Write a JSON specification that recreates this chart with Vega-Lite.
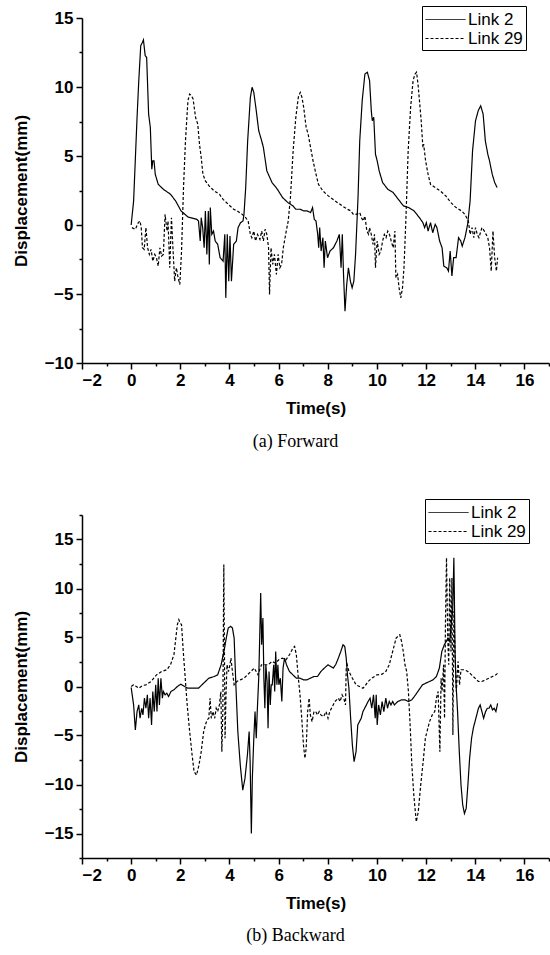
{
  "$schema": "https://vega.github.io/schema/vega-lite/v6.json",
  "background": "white",
  "padding": {"left": 12, "top": 5, "right": 0, "bottom": 0},
  "spacing": 47,
  "config": {
    "view": {"stroke": null},
    "axis": {
      "labelFont": "Liberation Sans", "labelFontWeight": "bold", "labelFontSize": 17, "labelColor": "black",
      "titleFont": "Liberation Sans", "titleFontWeight": "bold", "titleFontSize": 17, "titleColor": "black",
      "domainColor": "black", "domainWidth": 1.5, "tickColor": "black", "tickWidth": 1.5, "grid": false
    },
    "legend": {
      "labelFont": "Liberation Sans", "labelFontSize": 17, "labelColor": "black",
      "strokeColor": "black", "fillColor": "white", "padding": 3, "rowPadding": 0,
      "symbolType": "M-2,0H2", "symbolSize": 400, "symbolOffset": 10, "symbolFillColor": "transparent",
      "symbolStrokeColor": "black", "symbolStrokeWidth": 1,
      "labelOffset": 12
    }
  },
  "datasets": {
    "forward": [
      {"series":"Link 2","t":0.00,"v":0.00},{"series":"Link 2","t":0.10,"v":1.74},{"series":"Link 2","t":0.24,"v":7.80},{"series":"Link 2","t":0.31,"v":10.46},{"series":"Link 2","t":0.39,"v":13.00},{"series":"Link 2","t":0.46,"v":13.24},{"series":"Link 2","t":0.50,"v":13.41},{"series":"Link 2","t":0.57,"v":12.28},{"series":"Link 2","t":0.63,"v":12.15},{"series":"Link 2","t":0.71,"v":8.04},{"series":"Link 2","t":0.78,"v":7.07},{"series":"Link 2","t":0.84,"v":4.04},{"series":"Link 2","t":0.88,"v":4.65},{"series":"Link 2","t":0.93,"v":4.65},{"series":"Link 2","t":0.98,"v":3.68},{"series":"Link 2","t":1.10,"v":2.95},{"series":"Link 2","t":1.31,"v":2.59},{"series":"Link 2","t":1.60,"v":2.23},{"series":"Link 2","t":1.81,"v":1.74},{"series":"Link 2","t":2.03,"v":1.02},{"series":"Link 2","t":2.31,"v":0.58},{"series":"Link 2","t":2.67,"v":0.41},{"series":"Link 2","t":2.74,"v":0.29},{"series":"Link 2","t":2.81,"v":-1.16},{"series":"Link 2","t":2.85,"v":0.53},{"series":"Link 2","t":2.91,"v":-0.19},{"series":"Link 2","t":2.97,"v":-1.65},{"series":"Link 2","t":3.02,"v":1.02},{"series":"Link 2","t":3.08,"v":-2.13},{"series":"Link 2","t":3.14,"v":1.02},{"series":"Link 2","t":3.18,"v":-2.86},{"series":"Link 2","t":3.22,"v":1.26},{"series":"Link 2","t":3.28,"v":-0.68},{"series":"Link 2","t":3.35,"v":-0.44},{"series":"Link 2","t":3.42,"v":-1.16},{"series":"Link 2","t":3.52,"v":-1.40},{"series":"Link 2","t":3.62,"v":-2.37},{"series":"Link 2","t":3.74,"v":-2.62},{"series":"Link 2","t":3.81,"v":-0.68},{"series":"Link 2","t":3.85,"v":-5.28},{"series":"Link 2","t":3.91,"v":-0.68},{"series":"Link 2","t":3.97,"v":-4.07},{"series":"Link 2","t":4.02,"v":-0.80},{"series":"Link 2","t":4.08,"v":-4.07},{"series":"Link 2","t":4.17,"v":-1.40},{"series":"Link 2","t":4.28,"v":-1.16},{"series":"Link 2","t":4.35,"v":-0.19},{"series":"Link 2","t":4.45,"v":0.17},{"series":"Link 2","t":4.55,"v":0.29},{"series":"Link 2","t":4.59,"v":0.77},{"series":"Link 2","t":4.66,"v":2.71},{"series":"Link 2","t":4.74,"v":6.10},{"series":"Link 2","t":4.85,"v":9.25},{"series":"Link 2","t":4.92,"v":9.98},{"series":"Link 2","t":4.99,"v":9.61},{"series":"Link 2","t":5.09,"v":8.28},{"series":"Link 2","t":5.19,"v":6.83},{"series":"Link 2","t":5.31,"v":6.10},{"series":"Link 2","t":5.38,"v":5.62},{"series":"Link 2","t":5.52,"v":3.92},{"series":"Link 2","t":5.73,"v":3.08},{"series":"Link 2","t":5.95,"v":2.59},{"series":"Link 2","t":6.16,"v":1.99},{"series":"Link 2","t":6.38,"v":1.62},{"series":"Link 2","t":6.59,"v":1.38},{"series":"Link 2","t":6.70,"v":1.14},{"series":"Link 2","t":6.88,"v":1.14},{"series":"Link 2","t":7.02,"v":1.02},{"series":"Link 2","t":7.16,"v":1.02},{"series":"Link 2","t":7.30,"v":0.90},{"series":"Link 2","t":7.38,"v":1.26},{"series":"Link 2","t":7.45,"v":0.41},{"series":"Link 2","t":7.52,"v":0.29},{"series":"Link 2","t":7.59,"v":-0.68},{"series":"Link 2","t":7.63,"v":-1.65},{"series":"Link 2","t":7.67,"v":-0.19},{"series":"Link 2","t":7.73,"v":-1.89},{"series":"Link 2","t":7.80,"v":-0.92},{"series":"Link 2","t":7.85,"v":-3.10},{"series":"Link 2","t":7.90,"v":-1.16},{"series":"Link 2","t":7.99,"v":-2.37},{"series":"Link 2","t":8.09,"v":-1.89},{"series":"Link 2","t":8.23,"v":-1.65},{"series":"Link 2","t":8.37,"v":-1.16},{"series":"Link 2","t":8.47,"v":-0.68},{"series":"Link 2","t":8.54,"v":-3.10},{"series":"Link 2","t":8.59,"v":-0.68},{"series":"Link 2","t":8.64,"v":-3.58},{"series":"Link 2","t":8.70,"v":-6.25},{"series":"Link 2","t":8.77,"v":-4.31},{"series":"Link 2","t":8.84,"v":-3.10},{"series":"Link 2","t":8.92,"v":-4.07},{"series":"Link 2","t":8.99,"v":-4.55},{"series":"Link 2","t":9.06,"v":-4.07},{"series":"Link 2","t":9.13,"v":-2.13},{"series":"Link 2","t":9.23,"v":1.99},{"series":"Link 2","t":9.30,"v":6.10},{"series":"Link 2","t":9.40,"v":9.01},{"series":"Link 2","t":9.51,"v":10.94},{"series":"Link 2","t":9.61,"v":11.07},{"series":"Link 2","t":9.70,"v":10.46},{"series":"Link 2","t":9.77,"v":8.28},{"series":"Link 2","t":9.81,"v":7.55},{"series":"Link 2","t":9.87,"v":7.80},{"series":"Link 2","t":9.94,"v":5.13},{"series":"Link 2","t":10.01,"v":4.65},{"series":"Link 2","t":10.09,"v":3.92},{"series":"Link 2","t":10.23,"v":3.08},{"series":"Link 2","t":10.44,"v":2.59},{"series":"Link 2","t":10.66,"v":2.35},{"series":"Link 2","t":10.87,"v":1.86},{"series":"Link 2","t":11.08,"v":1.38},{"series":"Link 2","t":11.30,"v":1.26},{"series":"Link 2","t":11.51,"v":1.02},{"series":"Link 2","t":11.73,"v":0.53},{"series":"Link 2","t":11.87,"v":0.17},{"series":"Link 2","t":11.94,"v":-0.19},{"series":"Link 2","t":12.01,"v":0.17},{"series":"Link 2","t":12.08,"v":-0.44},{"series":"Link 2","t":12.18,"v":0.17},{"series":"Link 2","t":12.27,"v":-0.56},{"series":"Link 2","t":12.37,"v":0.05},{"series":"Link 2","t":12.44,"v":-0.19},{"series":"Link 2","t":12.55,"v":-1.16},{"series":"Link 2","t":12.65,"v":-1.65},{"series":"Link 2","t":12.72,"v":-2.98},{"series":"Link 2","t":12.84,"v":-3.10},{"series":"Link 2","t":12.91,"v":-3.34},{"series":"Link 2","t":12.98,"v":-1.89},{"series":"Link 2","t":13.05,"v":-3.70},{"series":"Link 2","t":13.12,"v":-2.37},{"series":"Link 2","t":13.22,"v":-2.37},{"series":"Link 2","t":13.32,"v":-0.92},{"series":"Link 2","t":13.41,"v":-1.16},{"series":"Link 2","t":13.47,"v":-1.53},{"series":"Link 2","t":13.58,"v":-0.92},{"series":"Link 2","t":13.69,"v":0.05},{"series":"Link 2","t":13.79,"v":1.74},{"series":"Link 2","t":13.89,"v":5.38},{"series":"Link 2","t":14.01,"v":7.55},{"series":"Link 2","t":14.12,"v":8.28},{"series":"Link 2","t":14.22,"v":8.64},{"series":"Link 2","t":14.32,"v":8.04},{"series":"Link 2","t":14.41,"v":6.10},{"series":"Link 2","t":14.51,"v":5.13},{"series":"Link 2","t":14.58,"v":4.65},{"series":"Link 2","t":14.69,"v":3.68},{"series":"Link 2","t":14.79,"v":3.08},{"series":"Link 2","t":14.89,"v":2.71},
      {"series":"Link 29","t":0.03,"v":-0.19},{"series":"Link 29","t":0.17,"v":-0.31},{"series":"Link 29","t":0.29,"v":0.17},{"series":"Link 29","t":0.36,"v":0.29},{"series":"Link 29","t":0.41,"v":-0.19},{"series":"Link 29","t":0.46,"v":-1.65},{"series":"Link 29","t":0.53,"v":-1.77},{"series":"Link 29","t":0.60,"v":-0.19},{"series":"Link 29","t":0.67,"v":-1.65},{"series":"Link 29","t":0.74,"v":-2.13},{"series":"Link 29","t":0.81,"v":-1.77},{"series":"Link 29","t":0.88,"v":-2.62},{"series":"Link 29","t":0.96,"v":-2.13},{"series":"Link 29","t":1.03,"v":-2.37},{"series":"Link 29","t":1.10,"v":-2.98},{"series":"Link 29","t":1.17,"v":-1.65},{"series":"Link 29","t":1.24,"v":-2.25},{"series":"Link 29","t":1.31,"v":-2.13},{"series":"Link 29","t":1.38,"v":0.77},{"series":"Link 29","t":1.46,"v":-0.44},{"series":"Link 29","t":1.50,"v":0.29},{"series":"Link 29","t":1.57,"v":-3.10},{"series":"Link 29","t":1.64,"v":0.53},{"series":"Link 29","t":1.70,"v":-1.65},{"series":"Link 29","t":1.77,"v":-4.07},{"series":"Link 29","t":1.84,"v":-3.10},{"series":"Link 29","t":1.91,"v":-3.83},{"series":"Link 29","t":1.98,"v":-4.31},{"series":"Link 29","t":2.05,"v":-1.89},{"series":"Link 29","t":2.13,"v":2.71},{"series":"Link 29","t":2.21,"v":6.10},{"series":"Link 29","t":2.31,"v":9.01},{"series":"Link 29","t":2.38,"v":9.49},{"series":"Link 29","t":2.45,"v":9.37},{"series":"Link 29","t":2.52,"v":9.13},{"series":"Link 29","t":2.62,"v":7.80},{"series":"Link 29","t":2.71,"v":7.31},{"series":"Link 29","t":2.78,"v":5.86},{"series":"Link 29","t":2.85,"v":4.89},{"series":"Link 29","t":2.92,"v":3.68},{"series":"Link 29","t":3.02,"v":3.20},{"series":"Link 29","t":3.17,"v":2.83},{"series":"Link 29","t":3.38,"v":2.47},{"series":"Link 29","t":3.59,"v":2.23},{"series":"Link 29","t":3.74,"v":1.86},{"series":"Link 29","t":3.95,"v":1.50},{"series":"Link 29","t":4.17,"v":1.14},{"series":"Link 29","t":4.31,"v":1.02},{"series":"Link 29","t":4.52,"v":0.77},{"series":"Link 29","t":4.66,"v":0.53},{"series":"Link 29","t":4.76,"v":0.29},{"series":"Link 29","t":4.85,"v":-0.68},{"series":"Link 29","t":4.91,"v":-0.92},{"series":"Link 29","t":4.99,"v":-0.44},{"series":"Link 29","t":5.06,"v":-1.16},{"series":"Link 29","t":5.14,"v":-0.68},{"series":"Link 29","t":5.24,"v":-1.04},{"series":"Link 29","t":5.31,"v":-0.44},{"series":"Link 29","t":5.38,"v":-1.16},{"series":"Link 29","t":5.45,"v":-0.31},{"series":"Link 29","t":5.52,"v":-0.68},{"series":"Link 29","t":5.59,"v":-1.65},{"series":"Link 29","t":5.63,"v":-5.04},{"series":"Link 29","t":5.69,"v":-1.65},{"series":"Link 29","t":5.76,"v":-2.86},{"series":"Link 29","t":5.83,"v":-2.13},{"series":"Link 29","t":5.91,"v":-3.58},{"series":"Link 29","t":5.98,"v":-2.13},{"series":"Link 29","t":6.05,"v":-3.10},{"series":"Link 29","t":6.12,"v":-2.86},{"series":"Link 29","t":6.19,"v":-1.65},{"series":"Link 29","t":6.31,"v":-0.44},{"series":"Link 29","t":6.39,"v":0.29},{"series":"Link 29","t":6.48,"v":1.99},{"series":"Link 29","t":6.59,"v":5.38},{"series":"Link 29","t":6.70,"v":7.80},{"series":"Link 29","t":6.80,"v":9.25},{"series":"Link 29","t":6.88,"v":9.61},{"series":"Link 29","t":6.95,"v":9.25},{"series":"Link 29","t":7.02,"v":8.52},{"series":"Link 29","t":7.12,"v":7.07},{"series":"Link 29","t":7.20,"v":6.59},{"series":"Link 29","t":7.30,"v":5.62},{"series":"Link 29","t":7.40,"v":4.65},{"series":"Link 29","t":7.52,"v":3.68},{"series":"Link 29","t":7.62,"v":2.95},{"series":"Link 29","t":7.80,"v":2.47},{"series":"Link 29","t":8.02,"v":2.11},{"series":"Link 29","t":8.30,"v":1.74},{"series":"Link 29","t":8.59,"v":1.38},{"series":"Link 29","t":8.80,"v":1.14},{"series":"Link 29","t":8.94,"v":1.02},{"series":"Link 29","t":9.04,"v":0.77},{"series":"Link 29","t":9.16,"v":0.77},{"series":"Link 29","t":9.30,"v":0.90},{"series":"Link 29","t":9.37,"v":0.53},{"series":"Link 29","t":9.44,"v":0.29},{"series":"Link 29","t":9.51,"v":0.65},{"series":"Link 29","t":9.59,"v":-0.44},{"series":"Link 29","t":9.66,"v":-0.68},{"series":"Link 29","t":9.70,"v":-0.19},{"series":"Link 29","t":9.77,"v":-0.68},{"series":"Link 29","t":9.84,"v":-1.40},{"series":"Link 29","t":9.90,"v":-0.68},{"series":"Link 29","t":9.94,"v":-3.10},{"series":"Link 29","t":10.01,"v":-1.16},{"series":"Link 29","t":10.09,"v":-2.13},{"series":"Link 29","t":10.16,"v":-1.89},{"series":"Link 29","t":10.23,"v":-1.16},{"series":"Link 29","t":10.30,"v":-0.68},{"series":"Link 29","t":10.37,"v":-0.92},{"series":"Link 29","t":10.44,"v":-0.44},{"series":"Link 29","t":10.51,"v":-0.68},{"series":"Link 29","t":10.58,"v":-1.16},{"series":"Link 29","t":10.66,"v":-1.65},{"series":"Link 29","t":10.73,"v":-0.44},{"series":"Link 29","t":10.77,"v":-3.83},{"series":"Link 29","t":10.84,"v":-3.58},{"series":"Link 29","t":10.90,"v":-4.55},{"series":"Link 29","t":10.97,"v":-5.28},{"series":"Link 29","t":11.04,"v":-4.55},{"series":"Link 29","t":11.10,"v":-3.10},{"series":"Link 29","t":11.18,"v":0.53},{"series":"Link 29","t":11.27,"v":5.38},{"series":"Link 29","t":11.37,"v":8.52},{"series":"Link 29","t":11.47,"v":10.46},{"series":"Link 29","t":11.55,"v":10.94},{"series":"Link 29","t":11.61,"v":11.07},{"series":"Link 29","t":11.67,"v":10.22},{"series":"Link 29","t":11.73,"v":9.01},{"series":"Link 29","t":11.80,"v":7.55},{"series":"Link 29","t":11.87,"v":5.62},{"series":"Link 29","t":11.90,"v":5.86},{"series":"Link 29","t":11.98,"v":4.65},{"series":"Link 29","t":12.08,"v":3.68},{"series":"Link 29","t":12.18,"v":2.95},{"series":"Link 29","t":12.37,"v":2.71},{"series":"Link 29","t":12.58,"v":2.47},{"series":"Link 29","t":12.80,"v":2.11},{"series":"Link 29","t":13.01,"v":1.62},{"series":"Link 29","t":13.22,"v":1.26},{"series":"Link 29","t":13.44,"v":1.02},{"series":"Link 29","t":13.58,"v":0.77},{"series":"Link 29","t":13.72,"v":0.29},{"series":"Link 29","t":13.79,"v":-0.68},{"series":"Link 29","t":13.87,"v":-0.19},{"series":"Link 29","t":13.94,"v":-0.92},{"series":"Link 29","t":14.01,"v":-0.19},{"series":"Link 29","t":14.08,"v":-0.68},{"series":"Link 29","t":14.15,"v":-0.92},{"series":"Link 29","t":14.27,"v":-0.19},{"series":"Link 29","t":14.37,"v":-0.44},{"series":"Link 29","t":14.44,"v":-0.68},{"series":"Link 29","t":14.51,"v":-0.92},{"series":"Link 29","t":14.58,"v":-1.65},{"series":"Link 29","t":14.65,"v":-3.34},{"series":"Link 29","t":14.72,"v":-0.44},{"series":"Link 29","t":14.79,"v":-2.37},{"series":"Link 29","t":14.86,"v":-3.34},{"series":"Link 29","t":14.91,"v":-2.37}
    ],
    "backward": [
      {"series":"Link 2","t":0.00,"v":-0.10},{"series":"Link 2","t":0.10,"v":-1.88},{"series":"Link 2","t":0.17,"v":-4.43},{"series":"Link 2","t":0.24,"v":-2.56},{"series":"Link 2","t":0.31,"v":-1.88},{"series":"Link 2","t":0.36,"v":-3.24},{"series":"Link 2","t":0.43,"v":-2.22},{"series":"Link 2","t":0.48,"v":-2.90},{"series":"Link 2","t":0.54,"v":-1.19},{"series":"Link 2","t":0.60,"v":-2.22},{"series":"Link 2","t":0.66,"v":-0.85},{"series":"Link 2","t":0.71,"v":-3.24},{"series":"Link 2","t":0.77,"v":-1.19},{"series":"Link 2","t":0.83,"v":-3.92},{"series":"Link 2","t":0.88,"v":-0.51},{"series":"Link 2","t":0.94,"v":-2.56},{"series":"Link 2","t":1.00,"v":0.17},{"series":"Link 2","t":1.05,"v":-2.56},{"series":"Link 2","t":1.10,"v":0.85},{"series":"Link 2","t":1.15,"v":-1.88},{"series":"Link 2","t":1.21,"v":0.85},{"series":"Link 2","t":1.27,"v":-1.19},{"series":"Link 2","t":1.31,"v":-0.51},{"series":"Link 2","t":1.38,"v":-0.85},{"series":"Link 2","t":1.45,"v":-0.68},{"series":"Link 2","t":1.52,"v":-1.02},{"series":"Link 2","t":1.62,"v":-0.51},{"series":"Link 2","t":1.74,"v":-0.34},{"series":"Link 2","t":1.88,"v":0.00},{"series":"Link 2","t":2.02,"v":0.24},{"series":"Link 2","t":2.17,"v":0.00},{"series":"Link 2","t":2.31,"v":-0.17},{"series":"Link 2","t":2.52,"v":-0.17},{"series":"Link 2","t":2.74,"v":-0.17},{"series":"Link 2","t":2.95,"v":0.34},{"series":"Link 2","t":3.16,"v":0.85},{"series":"Link 2","t":3.38,"v":1.02},{"series":"Link 2","t":3.52,"v":1.19},{"series":"Link 2","t":3.66,"v":2.22},{"series":"Link 2","t":3.80,"v":3.92},{"series":"Link 2","t":3.87,"v":4.94},{"series":"Link 2","t":3.95,"v":5.97},{"series":"Link 2","t":4.05,"v":6.14},{"series":"Link 2","t":4.12,"v":5.97},{"series":"Link 2","t":4.19,"v":4.94},{"series":"Link 2","t":4.26,"v":0.17},{"series":"Link 2","t":4.34,"v":-4.60},{"series":"Link 2","t":4.44,"v":-8.01},{"series":"Link 2","t":4.54,"v":-10.57},{"series":"Link 2","t":4.63,"v":-9.38},{"series":"Link 2","t":4.73,"v":-6.99},{"series":"Link 2","t":4.80,"v":-4.60},{"series":"Link 2","t":4.84,"v":-7.67},{"series":"Link 2","t":4.89,"v":-15.00},{"series":"Link 2","t":4.93,"v":-9.38},{"series":"Link 2","t":4.99,"v":-5.28},{"series":"Link 2","t":5.04,"v":-2.56},{"series":"Link 2","t":5.09,"v":-5.28},{"series":"Link 2","t":5.13,"v":-2.56},{"series":"Link 2","t":5.19,"v":0.85},{"series":"Link 2","t":5.23,"v":4.94},{"series":"Link 2","t":5.27,"v":9.55},{"series":"Link 2","t":5.31,"v":4.26},{"series":"Link 2","t":5.36,"v":6.99},{"series":"Link 2","t":5.40,"v":0.85},{"series":"Link 2","t":5.44,"v":-2.22},{"series":"Link 2","t":5.48,"v":2.22},{"series":"Link 2","t":5.53,"v":0.51},{"series":"Link 2","t":5.57,"v":-4.26},{"series":"Link 2","t":5.61,"v":1.53},{"series":"Link 2","t":5.66,"v":-1.88},{"series":"Link 2","t":5.70,"v":0.17},{"series":"Link 2","t":5.74,"v":0.17},{"series":"Link 2","t":5.80,"v":2.22},{"series":"Link 2","t":5.84,"v":-0.51},{"series":"Link 2","t":5.88,"v":3.58},{"series":"Link 2","t":5.93,"v":0.17},{"series":"Link 2","t":5.97,"v":2.22},{"series":"Link 2","t":6.01,"v":0.17},{"series":"Link 2","t":6.07,"v":0.85},{"series":"Link 2","t":6.13,"v":-1.53},{"series":"Link 2","t":6.18,"v":1.88},{"series":"Link 2","t":6.24,"v":2.90},{"series":"Link 2","t":6.32,"v":2.22},{"series":"Link 2","t":6.44,"v":1.53},{"series":"Link 2","t":6.58,"v":1.19},{"series":"Link 2","t":6.72,"v":0.85},{"series":"Link 2","t":6.87,"v":0.85},{"series":"Link 2","t":7.01,"v":0.68},{"series":"Link 2","t":7.15,"v":0.68},{"series":"Link 2","t":7.29,"v":0.85},{"series":"Link 2","t":7.44,"v":1.02},{"series":"Link 2","t":7.58,"v":1.02},{"series":"Link 2","t":7.72,"v":1.53},{"series":"Link 2","t":7.86,"v":1.88},{"series":"Link 2","t":8.01,"v":2.22},{"series":"Link 2","t":8.12,"v":2.05},{"series":"Link 2","t":8.22,"v":1.88},{"series":"Link 2","t":8.32,"v":2.22},{"series":"Link 2","t":8.43,"v":2.90},{"series":"Link 2","t":8.53,"v":3.58},{"series":"Link 2","t":8.62,"v":4.26},{"series":"Link 2","t":8.69,"v":4.09},{"series":"Link 2","t":8.75,"v":2.90},{"series":"Link 2","t":8.80,"v":1.19},{"series":"Link 2","t":8.86,"v":-0.17},{"series":"Link 2","t":8.93,"v":-3.24},{"series":"Link 2","t":9.00,"v":-5.97},{"series":"Link 2","t":9.07,"v":-7.67},{"series":"Link 2","t":9.15,"v":-6.65},{"series":"Link 2","t":9.22,"v":-3.92},{"series":"Link 2","t":9.29,"v":-3.58},{"series":"Link 2","t":9.36,"v":-3.24},{"series":"Link 2","t":9.43,"v":-2.56},{"series":"Link 2","t":9.50,"v":-2.22},{"series":"Link 2","t":9.57,"v":-1.88},{"series":"Link 2","t":9.64,"v":-1.53},{"series":"Link 2","t":9.72,"v":-1.19},{"series":"Link 2","t":9.79,"v":-2.22},{"series":"Link 2","t":9.86,"v":-0.85},{"series":"Link 2","t":9.93,"v":-3.24},{"series":"Link 2","t":9.97,"v":-0.85},{"series":"Link 2","t":10.01,"v":-3.92},{"series":"Link 2","t":10.07,"v":-1.88},{"series":"Link 2","t":10.14,"v":-2.90},{"series":"Link 2","t":10.21,"v":-1.53},{"series":"Link 2","t":10.28,"v":-2.56},{"series":"Link 2","t":10.36,"v":-1.19},{"series":"Link 2","t":10.43,"v":-2.22},{"series":"Link 2","t":10.50,"v":-1.53},{"series":"Link 2","t":10.57,"v":-1.88},{"series":"Link 2","t":10.64,"v":-1.53},{"series":"Link 2","t":10.71,"v":-1.88},{"series":"Link 2","t":10.85,"v":-1.53},{"series":"Link 2","t":11.00,"v":-1.36},{"series":"Link 2","t":11.14,"v":-1.36},{"series":"Link 2","t":11.28,"v":-1.53},{"series":"Link 2","t":11.42,"v":-1.36},{"series":"Link 2","t":11.57,"v":-0.85},{"series":"Link 2","t":11.71,"v":-0.34},{"series":"Link 2","t":11.85,"v":0.17},{"series":"Link 2","t":11.99,"v":0.34},{"series":"Link 2","t":12.14,"v":0.51},{"series":"Link 2","t":12.28,"v":0.68},{"series":"Link 2","t":12.42,"v":1.02},{"series":"Link 2","t":12.54,"v":1.88},{"series":"Link 2","t":12.64,"v":3.58},{"series":"Link 2","t":12.74,"v":4.26},{"series":"Link 2","t":12.82,"v":4.60},{"series":"Link 2","t":12.89,"v":4.94},{"series":"Link 2","t":12.96,"v":4.60},{"series":"Link 2","t":13.02,"v":6.31},{"series":"Link 2","t":13.08,"v":7.67},{"series":"Link 2","t":13.13,"v":13.13},{"series":"Link 2","t":13.18,"v":3.24},{"series":"Link 2","t":13.22,"v":0.17},{"series":"Link 2","t":13.28,"v":-2.56},{"series":"Link 2","t":13.35,"v":-6.65},{"series":"Link 2","t":13.42,"v":-10.06},{"series":"Link 2","t":13.49,"v":-12.10},{"series":"Link 2","t":13.56,"v":-12.96},{"series":"Link 2","t":13.63,"v":-12.44},{"series":"Link 2","t":13.70,"v":-10.06},{"series":"Link 2","t":13.77,"v":-7.33},{"series":"Link 2","t":13.85,"v":-5.28},{"series":"Link 2","t":13.92,"v":-4.26},{"series":"Link 2","t":13.99,"v":-3.58},{"series":"Link 2","t":14.06,"v":-2.90},{"series":"Link 2","t":14.13,"v":-2.22},{"series":"Link 2","t":14.20,"v":-1.88},{"series":"Link 2","t":14.27,"v":-2.56},{"series":"Link 2","t":14.34,"v":-3.24},{"series":"Link 2","t":14.42,"v":-2.56},{"series":"Link 2","t":14.49,"v":-2.22},{"series":"Link 2","t":14.56,"v":-2.22},{"series":"Link 2","t":14.63,"v":-1.88},{"series":"Link 2","t":14.70,"v":-2.39},{"series":"Link 2","t":14.77,"v":-2.22},{"series":"Link 2","t":14.84,"v":-2.56},{"series":"Link 2","t":14.91,"v":-1.71},
      {"series":"Link 29","t":0.00,"v":0.00},{"series":"Link 29","t":0.10,"v":0.17},{"series":"Link 29","t":0.21,"v":0.00},{"series":"Link 29","t":0.31,"v":-0.17},{"series":"Link 29","t":0.46,"v":0.10},{"series":"Link 29","t":0.60,"v":0.17},{"series":"Link 29","t":0.81,"v":0.51},{"series":"Link 29","t":1.03,"v":1.19},{"series":"Link 29","t":1.24,"v":1.53},{"series":"Link 29","t":1.45,"v":1.71},{"series":"Link 29","t":1.60,"v":2.22},{"series":"Link 29","t":1.74,"v":3.24},{"series":"Link 29","t":1.88,"v":6.31},{"series":"Link 29","t":1.94,"v":6.82},{"series":"Link 29","t":1.99,"v":6.48},{"series":"Link 29","t":2.05,"v":6.31},{"series":"Link 29","t":2.12,"v":3.58},{"series":"Link 29","t":2.21,"v":0.51},{"series":"Link 29","t":2.28,"v":-1.88},{"series":"Link 29","t":2.38,"v":-4.60},{"series":"Link 29","t":2.48,"v":-6.99},{"series":"Link 29","t":2.56,"v":-8.69},{"series":"Link 29","t":2.66,"v":-9.04},{"series":"Link 29","t":2.76,"v":-8.01},{"series":"Link 29","t":2.85,"v":-6.65},{"series":"Link 29","t":2.95,"v":-4.60},{"series":"Link 29","t":3.02,"v":-3.92},{"series":"Link 29","t":3.09,"v":-3.41},{"series":"Link 29","t":3.16,"v":-3.24},{"series":"Link 29","t":3.21,"v":-1.19},{"series":"Link 29","t":3.26,"v":-3.24},{"series":"Link 29","t":3.33,"v":-2.56},{"series":"Link 29","t":3.40,"v":-3.24},{"series":"Link 29","t":3.46,"v":-2.22},{"series":"Link 29","t":3.52,"v":-2.56},{"series":"Link 29","t":3.59,"v":-1.88},{"series":"Link 29","t":3.65,"v":-0.51},{"series":"Link 29","t":3.69,"v":-6.65},{"series":"Link 29","t":3.73,"v":-2.56},{"series":"Link 29","t":3.77,"v":12.44},{"series":"Link 29","t":3.82,"v":-5.28},{"series":"Link 29","t":3.86,"v":-0.85},{"series":"Link 29","t":3.90,"v":2.22},{"series":"Link 29","t":3.96,"v":1.53},{"series":"Link 29","t":4.02,"v":2.22},{"series":"Link 29","t":4.06,"v":2.90},{"series":"Link 29","t":4.12,"v":1.53},{"series":"Link 29","t":4.19,"v":0.17},{"series":"Link 29","t":4.30,"v":0.51},{"series":"Link 29","t":4.44,"v":0.68},{"series":"Link 29","t":4.59,"v":0.85},{"series":"Link 29","t":4.73,"v":1.19},{"series":"Link 29","t":4.87,"v":1.53},{"series":"Link 29","t":5.01,"v":1.88},{"series":"Link 29","t":5.16,"v":1.19},{"series":"Link 29","t":5.30,"v":2.22},{"series":"Link 29","t":5.44,"v":2.22},{"series":"Link 29","t":5.58,"v":2.22},{"series":"Link 29","t":5.73,"v":2.56},{"series":"Link 29","t":5.87,"v":2.39},{"series":"Link 29","t":6.01,"v":2.73},{"series":"Link 29","t":6.15,"v":2.90},{"series":"Link 29","t":6.30,"v":2.73},{"series":"Link 29","t":6.44,"v":3.24},{"series":"Link 29","t":6.58,"v":3.92},{"series":"Link 29","t":6.65,"v":4.09},{"series":"Link 29","t":6.72,"v":3.24},{"series":"Link 29","t":6.79,"v":1.19},{"series":"Link 29","t":6.87,"v":-0.85},{"series":"Link 29","t":6.94,"v":-3.24},{"series":"Link 29","t":7.01,"v":-5.97},{"series":"Link 29","t":7.07,"v":-7.33},{"series":"Link 29","t":7.12,"v":-6.31},{"series":"Link 29","t":7.18,"v":-2.56},{"series":"Link 29","t":7.24,"v":-1.19},{"series":"Link 29","t":7.29,"v":-2.90},{"series":"Link 29","t":7.36,"v":-3.58},{"series":"Link 29","t":7.44,"v":-2.56},{"series":"Link 29","t":7.51,"v":-2.56},{"series":"Link 29","t":7.58,"v":-2.90},{"series":"Link 29","t":7.65,"v":-2.56},{"series":"Link 29","t":7.72,"v":-2.90},{"series":"Link 29","t":7.83,"v":-3.07},{"series":"Link 29","t":7.93,"v":-2.56},{"series":"Link 29","t":8.01,"v":-3.24},{"series":"Link 29","t":8.08,"v":-2.56},{"series":"Link 29","t":8.15,"v":-2.22},{"series":"Link 29","t":8.22,"v":-1.88},{"series":"Link 29","t":8.29,"v":-1.53},{"series":"Link 29","t":8.36,"v":-1.36},{"series":"Link 29","t":8.43,"v":-1.19},{"series":"Link 29","t":8.50,"v":-1.53},{"series":"Link 29","t":8.58,"v":-0.85},{"series":"Link 29","t":8.65,"v":-1.19},{"series":"Link 29","t":8.72,"v":-1.88},{"series":"Link 29","t":8.75,"v":1.88},{"series":"Link 29","t":8.79,"v":2.22},{"series":"Link 29","t":8.86,"v":1.53},{"series":"Link 29","t":9.00,"v":0.85},{"series":"Link 29","t":9.15,"v":0.17},{"series":"Link 29","t":9.29,"v":0.00},{"series":"Link 29","t":9.43,"v":-0.17},{"series":"Link 29","t":9.50,"v":0.00},{"series":"Link 29","t":9.64,"v":0.51},{"series":"Link 29","t":9.79,"v":0.85},{"series":"Link 29","t":10.00,"v":1.19},{"series":"Link 29","t":10.21,"v":1.26},{"series":"Link 29","t":10.36,"v":1.53},{"series":"Link 29","t":10.50,"v":2.22},{"series":"Link 29","t":10.64,"v":3.58},{"series":"Link 29","t":10.78,"v":4.94},{"series":"Link 29","t":10.93,"v":5.28},{"series":"Link 29","t":11.00,"v":4.60},{"series":"Link 29","t":11.07,"v":3.58},{"series":"Link 29","t":11.14,"v":2.22},{"series":"Link 29","t":11.21,"v":1.53},{"series":"Link 29","t":11.28,"v":-0.51},{"series":"Link 29","t":11.35,"v":-3.92},{"series":"Link 29","t":11.42,"v":-8.01},{"series":"Link 29","t":11.50,"v":-11.08},{"series":"Link 29","t":11.60,"v":-13.81},{"series":"Link 29","t":11.68,"v":-12.79},{"series":"Link 29","t":11.78,"v":-10.06},{"series":"Link 29","t":11.88,"v":-7.67},{"series":"Link 29","t":11.97,"v":-5.28},{"series":"Link 29","t":12.07,"v":-4.26},{"series":"Link 29","t":12.14,"v":-3.58},{"series":"Link 29","t":12.25,"v":-2.90},{"series":"Link 29","t":12.35,"v":-2.56},{"series":"Link 29","t":12.42,"v":-1.19},{"series":"Link 29","t":12.49,"v":-0.51},{"series":"Link 29","t":12.56,"v":-6.65},{"series":"Link 29","t":12.61,"v":0.85},{"series":"Link 29","t":12.65,"v":-0.51},{"series":"Link 29","t":12.71,"v":2.22},{"series":"Link 29","t":12.75,"v":-3.24},{"series":"Link 29","t":12.79,"v":6.99},{"series":"Link 29","t":12.83,"v":13.13},{"series":"Link 29","t":12.88,"v":4.94},{"series":"Link 29","t":12.92,"v":2.22},{"series":"Link 29","t":12.96,"v":11.08},{"series":"Link 29","t":13.01,"v":3.58},{"series":"Link 29","t":13.05,"v":11.08},{"series":"Link 29","t":13.09,"v":-4.94},{"series":"Link 29","t":13.13,"v":7.67},{"series":"Link 29","t":13.19,"v":2.22},{"series":"Link 29","t":13.23,"v":-0.51},{"series":"Link 29","t":13.30,"v":2.56},{"series":"Link 29","t":13.36,"v":0.17},{"series":"Link 29","t":13.42,"v":1.71},{"series":"Link 29","t":13.56,"v":1.71},{"series":"Link 29","t":13.70,"v":1.53},{"series":"Link 29","t":13.85,"v":1.19},{"series":"Link 29","t":13.99,"v":0.85},{"series":"Link 29","t":14.13,"v":0.51},{"series":"Link 29","t":14.27,"v":0.51},{"series":"Link 29","t":14.42,"v":0.68},{"series":"Link 29","t":14.56,"v":0.85},{"series":"Link 29","t":14.70,"v":1.02},{"series":"Link 29","t":14.84,"v":1.19},{"series":"Link 29","t":14.91,"v":1.36}
    ]
  },
  "vconcat": [
    {
      "width": 467, "height": 345,
      "data": {"name": "forward"},
      "title": {"text": "(a) Forward", "orient": "bottom", "font": "Liberation Serif", "fontSize": 18, "fontWeight": "normal", "color": "black", "offset": 17, "dx": -20},
      "layer": [
        {
          "mark": {"type": "line", "color": "black", "strokeWidth": 1.2},
          "encoding": {
            "x": {"field": "t", "type": "quantitative", "scale": {"domain": [-2, 17], "nice": false, "zero": false},
                  "axis": {"orient": "bottom", "title": "Time(s)", "values": [-2,0,2,4,6,8,10,12,14,16], "tickSize": 6, "labelPadding": 3, "titlePadding": 12}},
            "y": {"field": "v", "type": "quantitative", "scale": {"domain": [-10, 15], "nice": false, "zero": false},
                  "axis": {"orient": "left", "title": "Displacement(mm)", "values": [-10,-5,0,5,10,15], "tickSize": 6, "labelPadding": 3, "titlePadding": 14}},
            "strokeDash": {"field": "series", "type": "nominal", "scale": {"domain": ["Link 2", "Link 29"], "range": [[1, 0], [3, 2]]},
                  "legend": {"title": null, "orient": "none", "legendX": 340, "legendY": -12}}
          }
        },
        {
          "mark": {"type": "point", "opacity": 0},
          "encoding": {
            "x": {"field": "t", "type": "quantitative", "axis": {"orient": "bottom", "values": [-1,1,3,5,7,9,11,13,15,17], "labels": false, "domain": false, "tickSize": 3, "title": null}},
            "y": {"field": "v", "type": "quantitative", "axis": {"orient": "left", "values": [-7.5,-2.5,2.5,7.5,12.5], "labels": false, "domain": false, "tickSize": 3, "title": null}}
          }
        }
      ],
      "resolve": {"axis": {"x": "independent", "y": "independent"}}
    },
    {
      "width": 467, "height": 343,
      "data": {"name": "backward"},
      "title": {"text": "(b) Backward", "orient": "bottom", "font": "Liberation Serif", "fontSize": 18, "fontWeight": "normal", "color": "black", "offset": 16, "dx": -20},
      "layer": [
        {
          "mark": {"type": "line", "color": "black", "strokeWidth": 1.2},
          "encoding": {
            "x": {"field": "t", "type": "quantitative", "scale": {"domain": [-2, 17], "nice": false, "zero": false},
                  "axis": {"orient": "bottom", "title": "Time(s)", "values": [-2,0,2,4,6,8,10,12,14,16], "tickSize": 6, "labelPadding": 3, "titlePadding": 12}},
            "y": {"field": "v", "type": "quantitative", "scale": {"domain": [-17.5, 17.5], "nice": false, "zero": false},
                  "axis": {"orient": "left", "title": "Displacement(mm)", "values": [-15,-10,-5,0,5,10,15], "tickSize": 6, "labelPadding": 3, "titlePadding": 14}},
            "strokeDash": {"field": "series", "type": "nominal", "scale": {"domain": ["Link 2", "Link 29"], "range": [[1, 0], [3, 2]]},
                  "legend": {"title": null, "orient": "none", "legendX": 343, "legendY": -16}}
          }
        },
        {
          "mark": {"type": "point", "opacity": 0},
          "encoding": {
            "x": {"field": "t", "type": "quantitative", "axis": {"orient": "bottom", "values": [-1,1,3,5,7,9,11,13,15,17], "labels": false, "domain": false, "tickSize": 3, "title": null}},
            "y": {"field": "v", "type": "quantitative", "axis": {"orient": "left", "values": [-17.5,-12.5,-7.5,-2.5,2.5,7.5,12.5,17.5], "labels": false, "domain": false, "tickSize": 3, "title": null}}
          }
        }
      ],
      "resolve": {"axis": {"x": "independent", "y": "independent"}, "scale": {"strokeDash": "independent"}}
    }
  ],
  "resolve": {"scale": {"strokeDash": "independent"}, "legend": {"strokeDash": "independent"}}
}
